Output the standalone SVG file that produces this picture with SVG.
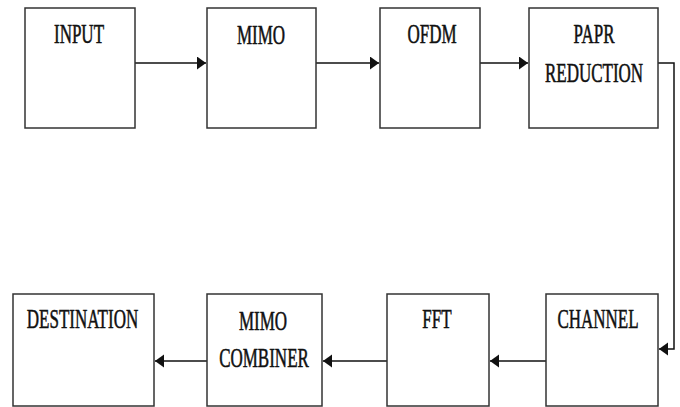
<svg xmlns="http://www.w3.org/2000/svg" width="680" height="407" viewBox="0 0 680 407">
<defs>
<style>
.box{fill:#fff;stroke:#333;stroke-width:1.5}
.lbl{font-family:"Liberation Serif","Times New Roman",serif;font-size:17px;fill:#111;stroke:#111;stroke-width:0.35;text-anchor:middle}
.con{fill:none;stroke:#111;stroke-width:1.5}
</style>
<marker id="ah" markerUnits="userSpaceOnUse" markerWidth="10" markerHeight="14" refX="9" refY="6.5" orient="auto">
<path d="M0,0 L9,6.5 L0,13 Z" fill="#111"/>
</marker>
</defs>
<rect width="680" height="407" fill="#fff"/>
<g id="connectors">
<path class="con" d="M135,63 H206" marker-end="url(#ah)"/>
<path class="con" d="M316,63 H379" marker-end="url(#ah)"/>
<path class="con" d="M480,63 H528" marker-end="url(#ah)"/>
<path class="con" d="M658,63 H674 V349 H659" marker-end="url(#ah)"/>
<path class="con" d="M546,361 H490" marker-end="url(#ah)"/>
<path class="con" d="M387,361 H323" marker-end="url(#ah)"/>
<path class="con" d="M207,361 H155" marker-end="url(#ah)"/>
</g>
<g id="input">
<rect class="box" x="25" y="8" width="110" height="120"/>
<text class="lbl" transform="translate(79,43) scale(1,1.55)">INPUT</text>
</g>
<g id="mimo">
<rect class="box" x="207" y="8" width="109" height="120"/>
<text class="lbl" transform="translate(261,44) scale(1,1.55)">MIMO</text>
</g>
<g id="ofdm">
<rect class="box" x="380" y="8" width="100" height="120"/>
<text class="lbl" transform="translate(432,43) scale(1,1.55)">OFDM</text>
</g>
<g id="papr">
<rect class="box" x="529" y="8" width="129" height="120"/>
<text class="lbl" transform="translate(594,43) scale(1,1.55)">PAPR</text>
<text class="lbl" transform="translate(594,82) scale(1,1.55)">REDUCTION</text>
</g>
<g id="channel">
<rect class="box" x="546" y="294" width="112" height="112"/>
<text class="lbl" transform="translate(598,328) scale(1,1.55)">CHANNEL</text>
</g>
<g id="fft">
<rect class="box" x="387" y="294" width="102" height="112"/>
<text class="lbl" transform="translate(437,328) scale(1,1.55)">FFT</text>
</g>
<g id="mimo-combiner">
<rect class="box" x="207" y="294" width="115" height="112"/>
<text class="lbl" transform="translate(263,330) scale(1,1.55)">MIMO</text>
<text class="lbl" transform="translate(264,367) scale(1,1.55)">COMBINER</text>
</g>
<g id="destination">
<rect class="box" x="13" y="294" width="141" height="112"/>
<text class="lbl" transform="translate(82.5,328) scale(1,1.55)">DESTINATION</text>
</g>
</svg>
